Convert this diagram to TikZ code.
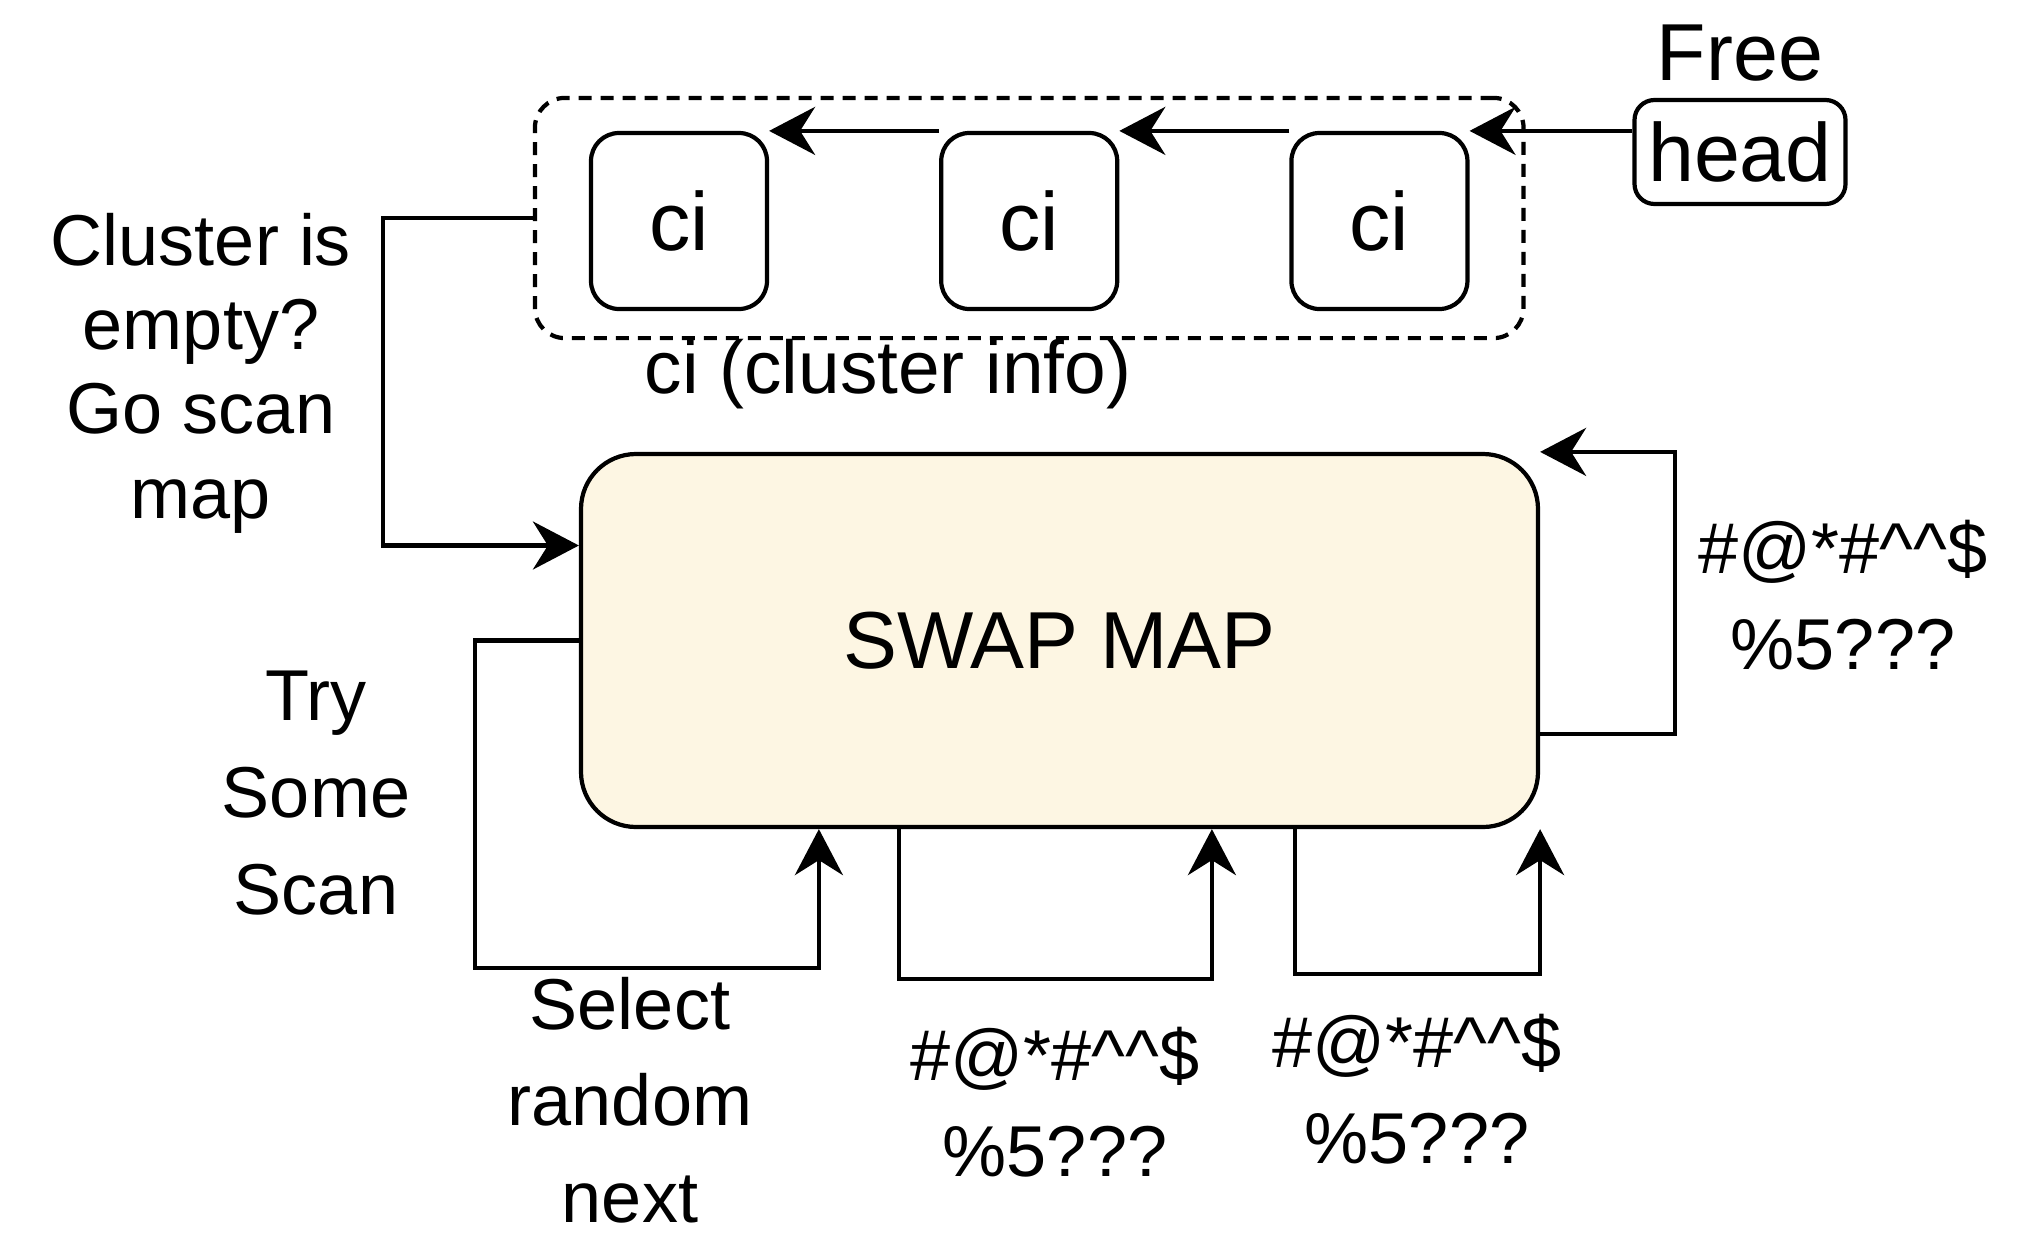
\documentclass[tikz,border=0pt]{standalone}
\usepackage{fontspec}
\setmainfont{Liberation Sans}
\usepackage{tikz}
\usetikzlibrary{positioning,arrows.meta,fit}
\definecolor{mapfill}{RGB}{253,246,227}

\begin{document}
\begin{tikzpicture}[
		node distance=1.70cm,
		line width=1.2pt,
		font=\fontsize{20.5}{27.5}\selectfont,
		arr/.style={-{Stealth[length=4.6mm,width=4.8mm,inset=1.5mm]}},
		cibox/.style={draw,rounded corners=0.28cm,minimum size=1.76cm,inner sep=0pt,font=\fontsize{23.5}{28}\selectfont},
		headbox/.style={draw,rounded corners=0.2cm,minimum width=2.11cm,minimum height=1.04cm,inner sep=0pt,font=\fontsize{23.5}{28}\selectfont},
		mapbox/.style={draw,fill=mapfill,rounded corners=0.55cm,minimum width=9.57cm,minimum height=3.73cm,font=\fontsize{23}{28}\selectfont},
		group/.style={draw,dash pattern=on 1.3mm off 0.9mm,rounded corners=0.3cm,inner xsep=0.54cm,inner ysep=0.30cm},
		txt/.style={align=center,inner sep=0pt}
		]
		
		\useasboundingbox (0,0) rectangle (20.38,12.34);
		
		\node[cibox] (ci1) at (6.79,10.13) {ci};
		\node[cibox] (ci2) [right=of ci1] {ci};
		\node[cibox] (ci3) [right=of ci2] {ci};
		\node[group,fit=(ci1)(ci3),yshift=0.03cm] (info) {};
		\node[txt,font=\fontsize{21.3}{27}\selectfont] (infolabel) at (8.88,8.60) {ci (cluster info)};
		
		\node[headbox] (head) at (17.40,10.82) {head};
		\node[txt,font=\fontsize{23}{28}\selectfont] (free) [above=0.14cm of head] {Free};
		
		\node[mapbox] (map) at (10.595,5.935) {SWAP MAP};
		
		\node[txt,font=\fontsize{20.5}{24}\selectfont] (emptylabel) at (2.01,8.61) {Cluster is\\empty?\\Go scan\\map};
		\node[txt] (trylabel) at (3.16,4.41) {Try\\Some\\Scan};
		\node[txt] (selectlabel) at (6.30,1.34) {Select\\random\\next};
		\node[txt] (codeA) at (10.55,1.32) {\#@*\#\textasciicircum\textasciicircum\$\\\%5???};
		\node[txt] (codeB) at (14.17,1.45) {\#@*\#\textasciicircum\textasciicircum\$\\\%5???};
		\node[txt] (codeC) at (18.43,6.39) {\#@*\#\textasciicircum\textasciicircum\$\\\%5???};
		
		\draw[arr] (ci2.north west) -- (ci1.north east);
		\draw[arr] (ci3.north west) -- (ci2.north east);
		\draw[arr] (head.west |- ci3.north east) -- (ci3.north east);
		
		\draw[arr] (info.west) -- ++(-1.5,0) |- ([yshift=0.95cm]map.west);
		\draw[arr] (map.west) -- ++(-1.04,0) |- ([xshift=2.4cm,yshift=-1.39cm]map.south west) -- ([xshift=2.4cm]map.south west);
		\draw[arr] ([xshift=3.2cm]map.south west) -- ++(0,-1.5) -| ([xshift=6.33cm]map.south west);
		\draw[arr] ([xshift=7.16cm]map.south west) -- ++(0,-1.45) -| (map.south east);
		\draw[arr] ([yshift=-0.935cm]map.east) -- ++(1.35,0) |- (map.north east);
		
	\end{tikzpicture}
\end{document}
